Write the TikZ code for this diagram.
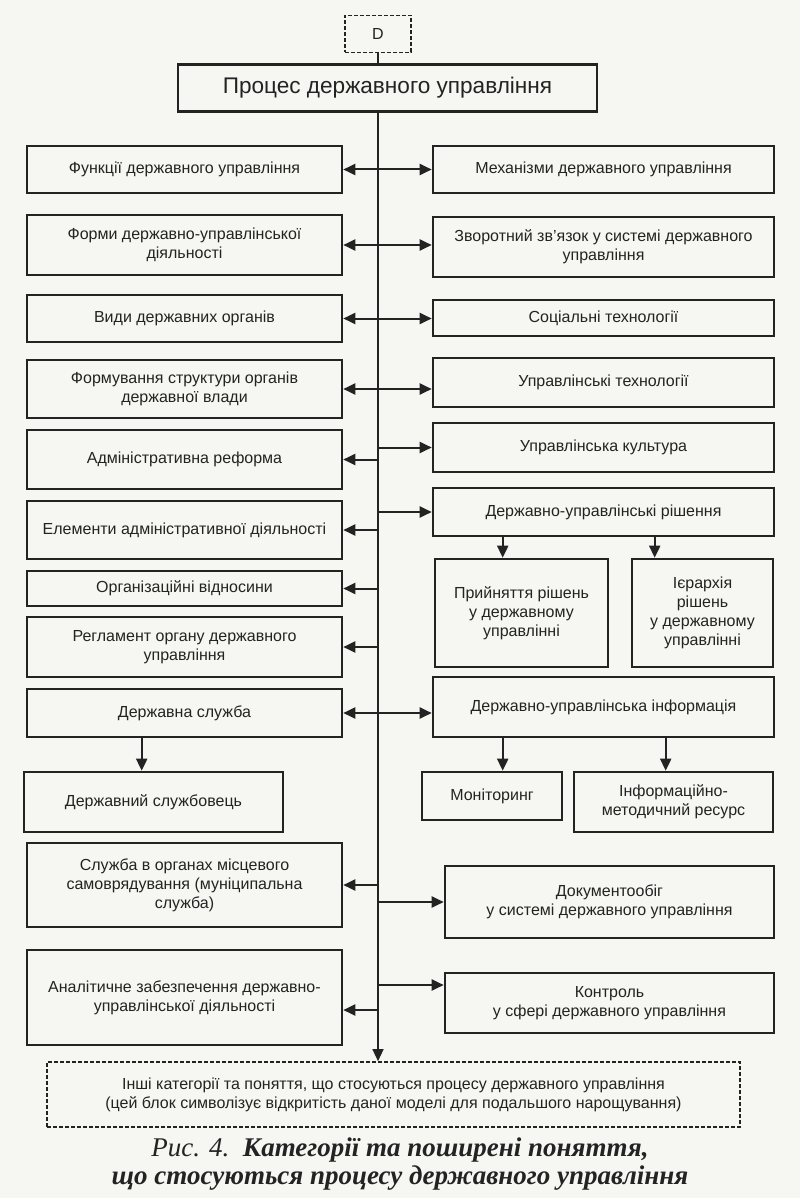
\documentclass[tikz,border=0pt]{standalone}
\usepackage{fontspec}
\setmainfont{Liberation Sans}
\newfontfamily\capfont{Liberation Serif}
\usetikzlibrary{arrows.meta,positioning,calc}
\definecolor{paper}{RGB}{246,246,242}
\definecolor{ink}{RGB}{35,35,35}

\begin{document}
\begin{tikzpicture}[
    x=0.5pt, y=-0.5pt,
    box/.style={rectangle, draw=ink, line width=1.3pt, align=center, inner sep=2pt, text=ink, font=\fontsize{8}{9.4}\selectfont},
    lbox/.style={box, minimum width=157.5pt},
    rbox/.style={box, minimum width=170.5pt},
    openbox/.style={box, line width=0.8pt, dash pattern=on 2pt off 1pt},
    arrow/.style={-{Triangle[length=6pt, width=5.5pt]}, line width=1pt, draw=ink},
    twoway/.style={{Triangle[length=6pt, width=5.5pt]}-{Triangle[length=6pt, width=5.5pt]}, line width=1pt, draw=ink},
    caption/.style={font=\capfont\fontsize{13.5}{14}\selectfont, align=center, text=ink}
]
    \fill[paper] (0,0) rectangle (800,1198);
    \useasboundingbox (0,0) rectangle (800,1198);

    % Top
    \node[openbox, minimum width=33pt, minimum height=18.5pt] (d) at (378,34) {D};
    \node[box, minimum width=209.5pt, minimum height=23.5pt, font=\fontsize{11.3}{13}\selectfont] (process) at (387.5,88) {Процес державного управління};

    % Left column
    \node[lbox, minimum height=23.5pt] (functions) at (184.5,169.5) {Функції державного управління};
    \node[lbox, minimum height=30pt] (forms) at (184.5,245) {Форми державно-управлінської\\діяльності};
    \node[lbox, minimum height=23.5pt] (kinds) at (184.5,318.5) {Види державних органів};
    \node[lbox, minimum height=29pt] (structure) at (184.5,389) {Формування структури органів\\державної влади};
    \node[lbox, minimum height=29.5pt] (reform) at (184.5,459.5) {Адміністративна реформа};
    \node[lbox, minimum height=29pt] (elements) at (184.5,530) {Елементи адміністративної діяльності};
    \node[lbox, minimum height=17.5pt] (relations) at (184.5,588.5) {Організаційні відносини};
    \node[lbox, minimum height=30pt] (reglament) at (184.5,647) {Регламент органу державного\\управління};
    \node[lbox, minimum height=24pt] (service) at (184.5,713) {Державна служба};
    \node[box, minimum width=129.5pt, minimum height=30pt] (servant) at (153.5,802) {Державний службовець};
    \node[lbox, minimum height=42pt] (municipal) at (184.5,885) {Служба в органах  місцевого\\самоврядування (муніципальна\\служба)};
    \node[lbox, minimum height=47.5pt] (analytics) at (184.5,997.5) {Аналітичне забезпечення державно-\\управлінської діяльності};

    % Right column
    \node[rbox, minimum height=23.5pt] (mechanisms) at (603.5,169.5) {Механізми державного  управління};
    \node[rbox, minimum height=30pt] (feedback) at (603.5,247) {Зворотний зв’язок у системі державного\\управління};
    \node[rbox, minimum height=18pt] (soctech) at (603.5,318) {Соціальні технології};
    \node[rbox, minimum height=24.5pt] (mantech) at (603.5,382.5) {Управлінські технології};
    \node[rbox, minimum height=24.5pt] (culture) at (603.5,447.5) {Управлінська культура};
    \node[rbox, minimum height=24pt] (decisions) at (603.5,512) {Державно-управлінські рішення};
    \node[box, minimum width=86.5pt, minimum height=54pt] (adoption) at (521.5,613) {Прийняття рішень\\у державному\\управлінні};
    \node[box, minimum width=70.5pt, minimum height=54pt] (hierarchy) at (702.5,613) {Ієрархія\\рішень\\у державному\\управлінні};
    \node[rbox, minimum height=30pt] (info) at (603.5,707) {Державно-управлінська інформація};
    \node[box, minimum width=70pt, minimum height=24pt] (monitoring) at (492,796) {Моніторинг};
    \node[box, minimum width=99.5pt, minimum height=30pt] (resource) at (673.5,802) {Інформаційно-\\методичний ресурс};
    \node[box, minimum width=164.5pt, minimum height=36pt] (docflow) at (609.5,902) {Документообіг\\у системі державного  управління};
    \node[box, minimum width=164.5pt, minimum height=30pt] (control) at (609.5,1003) {Контроль\\у сфері державного  управління};

    % Bottom
    \node[openbox, minimum width=346.5pt, minimum height=32.5pt] (others) at (393.5,1094.5) {Інші категорії та поняття, що стосуються  процесу державного  управління\\(цей блок символізує відкритість даної моделі для подальшого нарощування)};
    \node[caption] (figcap) at (400,1164) {\textit{Рис. 4.}\ \ \textbf{\textit{Категорії та поширені поняття,}}\\\textbf{\textit{що стосуються процесу державного управління}}};

    % Trunk
    \coordinate (trunk) at (d.south |- process.south);
    \draw[ink, line width=0.6pt] (d.south) -- (d.south |- process.north);
    \draw[arrow, line width=0.6pt] (trunk) -- (trunk |- others.north);

    % Two-way links
    \draw[twoway] (functions.east) -- (functions.east -| mechanisms.west);
    \draw[twoway] (forms.east) -- (forms.east -| feedback.west);
    \draw[twoway] (kinds.east) -- (kinds.east -| soctech.west);
    \draw[twoway] (structure.east) -- (structure.east -| mantech.west);
    \draw[twoway] (service.east) -- (service.east -| info.west);

    % From the trunk
    \draw[arrow] (trunk |- culture.west) -- (culture.west);
    \draw[arrow] (trunk |- reform.east) -- (reform.east);
    \draw[arrow] (trunk |- decisions.west) -- (decisions.west);
    \draw[arrow] (trunk |- elements.east) -- (elements.east);
    \draw[arrow] (trunk |- relations.east) -- (relations.east);
    \draw[arrow] (trunk |- reglament.east) -- (reglament.east);
    \draw[arrow] (trunk |- municipal.east) -- (municipal.east);
    \draw[arrow] (trunk |- docflow.west) -- (docflow.west);
    \coordinate (ctl) at ($(control.west)+(0,-18)$);
    \draw[arrow] (trunk |- ctl) -- (ctl);
    \coordinate (ana) at ($(analytics.east)+(0,12.5)$);
    \draw[arrow] (trunk |- ana) -- (ana);

    % Down links
    \coordinate (toadopt) at ($(adoption.north west)+(69,0)$);
    \coordinate (tohier) at ($(hierarchy.north west)+(24,0)$);
    \coordinate (tomon) at ($(monitoring.north west)+(82,0)$);
    \coordinate (tores) at ($(resource.north west)+(93,0)$);
    \coordinate (toservant) at ($(servant.north west)+(119,0)$);
    \draw[arrow] (decisions.south -| toadopt) -- (toadopt);
    \draw[arrow] (decisions.south -| tohier) -- (tohier);
    \draw[arrow] (info.south -| tomon) -- (tomon);
    \draw[arrow] (info.south -| tores) -- (tores);
    \draw[arrow] (service.south -| toservant) -- (toservant);
\end{tikzpicture}
\end{document}
